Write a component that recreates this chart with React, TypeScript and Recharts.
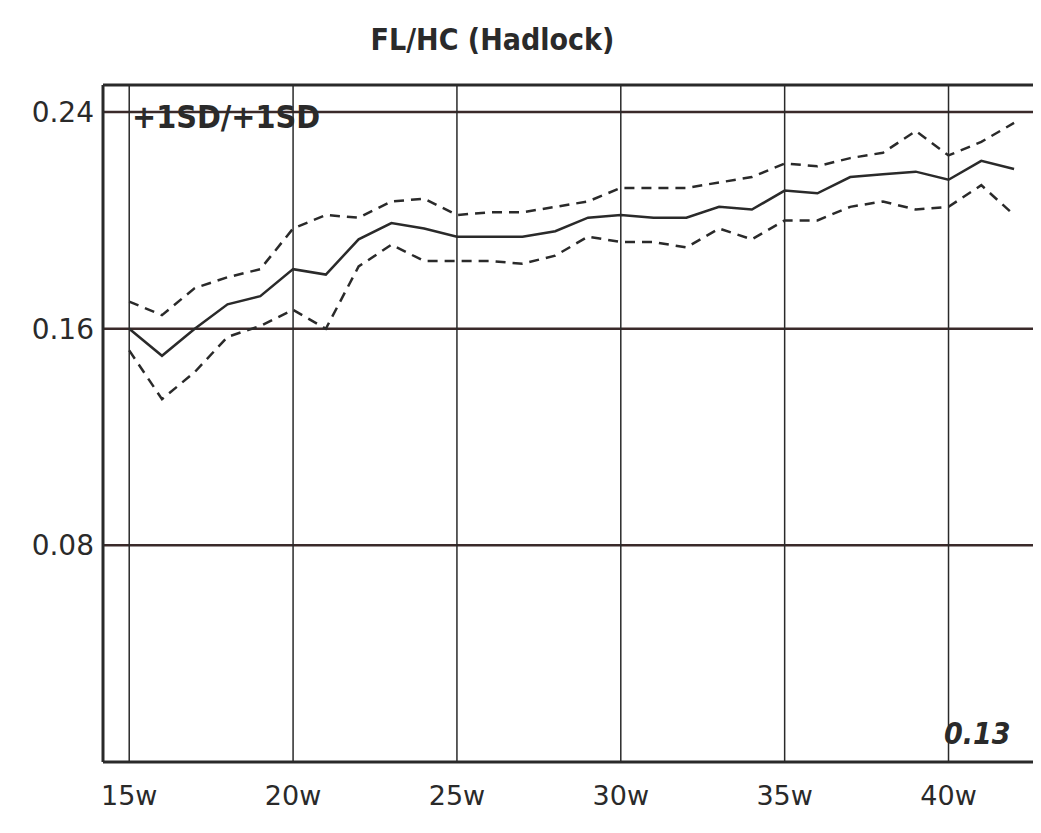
import React from "react"
import { LineChart, Line, XAxis, YAxis, ReferenceLine } from "recharts"

const weeks = [15, 16, 17, 18, 19, 20, 21, 22, 23, 24, 25, 26, 27, 28, 29, 30, 31, 32, 33, 34, 35, 36, 37, 38, 39, 40, 41, 42]
const mean = [0.160, 0.150, 0.160, 0.169, 0.172, 0.182, 0.180, 0.193, 0.199, 0.197, 0.194, 0.194, 0.194, 0.196, 0.201, 0.202, 0.201, 0.201, 0.205, 0.204, 0.211, 0.210, 0.216, 0.217, 0.218, 0.215, 0.222, 0.219]
const plusSD = [0.170, 0.165, 0.175, 0.179, 0.182, 0.197, 0.202, 0.201, 0.207, 0.208, 0.202, 0.203, 0.203, 0.205, 0.207, 0.212, 0.212, 0.212, 0.214, 0.216, 0.221, 0.220, 0.223, 0.225, 0.233, 0.224, 0.229, 0.236]
const minusSD = [0.152, 0.134, 0.144, 0.157, 0.161, 0.167, 0.160, 0.183, 0.191, 0.185, 0.185, 0.185, 0.184, 0.187, 0.194, 0.192, 0.192, 0.190, 0.197, 0.193, 0.200, 0.200, 0.205, 0.207, 0.204, 0.205, 0.213, 0.202]

const xTicks = [15, 20, 25, 30, 35, 40]
const yTicks = [0.08, 0.16, 0.24]

const title = "FL/HC (Hadlock)"
const sdLabel = "+1SD/+1SD"
const measured = "0.13"

const data = weeks.map((w, i) => ({ week: w, mean: mean[i], hi: plusSD[i], lo: minusSD[i] }))

const INK = "#2a2a2a"
const FONT = "'DejaVu Sans', sans-serif"
const COND = "'DejaVu Sans Condensed', 'DejaVu Sans', sans-serif"

export default function App() {
  return (
    <div style={{ position: "relative", width: 1041, height: 833, margin: -8, background: "#fff", fontFamily: FONT }}>
      <div style={{ position: "absolute", left: 0, width: 985, top: 22, textAlign: "center", fontSize: 30, fontWeight: 700, color: INK, fontFamily: COND }}>
        {title}
      </div>
      <LineChart width={1041} height={833} data={data} margin={{ top: 85, right: 4, bottom: 0, left: 0 }}>
        <XAxis
          dataKey="week"
          type="number"
          domain={[14.2, 42.7]}
          ticks={xTicks}
          tickFormatter={(v: number) => `${v}w`}
          axisLine={{ stroke: INK, strokeWidth: 3 }}
          tickLine={false}
          tick={{ fill: INK, fontSize: 27, fontFamily: FONT }}
          tickMargin={18}
          height={71}
          allowDataOverflow
        />
        <YAxis
          type="number"
          domain={[0, 0.25]}
          ticks={yTicks}
          tickFormatter={(v: number) => v.toFixed(2)}
          axisLine={{ stroke: INK, strokeWidth: 3 }}
          tickLine={false}
          tick={{ fill: INK, fontSize: 28, fontFamily: FONT }}
          tickMargin={3}
          width={103}
          allowDataOverflow
        />
        {yTicks.map((v) => (
          <ReferenceLine key={`h${v}`} y={v} stroke="#3a2a2a" strokeWidth={2.5} />
        ))}
        {xTicks.map((v) => (
          <ReferenceLine key={`v${v}`} x={v} stroke={INK} strokeWidth={1.5} />
        ))}
        <ReferenceLine y={0.25} stroke={INK} strokeWidth={3} />
        <ReferenceLine x={42.7} stroke={INK} strokeWidth={2} />
        <Line dataKey="hi" stroke={INK} strokeWidth={2.5} strokeDasharray="10 7" dot={false} isAnimationActive={false} />
        <Line dataKey="lo" stroke={INK} strokeWidth={2.5} strokeDasharray="10 7" dot={false} isAnimationActive={false} />
        <Line dataKey="mean" stroke={INK} strokeWidth={2.5} dot={false} isAnimationActive={false} />
      </LineChart>
      <div style={{ position: "absolute", left: 132, top: 98, fontSize: 32, fontWeight: 700, color: INK, fontFamily: COND }}>
        {sdLabel}
      </div>
      <div style={{ position: "absolute", left: 944, top: 716, fontSize: 30, fontWeight: 700, fontStyle: "italic", color: INK, fontFamily: COND }}>
        {measured}
      </div>
    </div>
  )
}
